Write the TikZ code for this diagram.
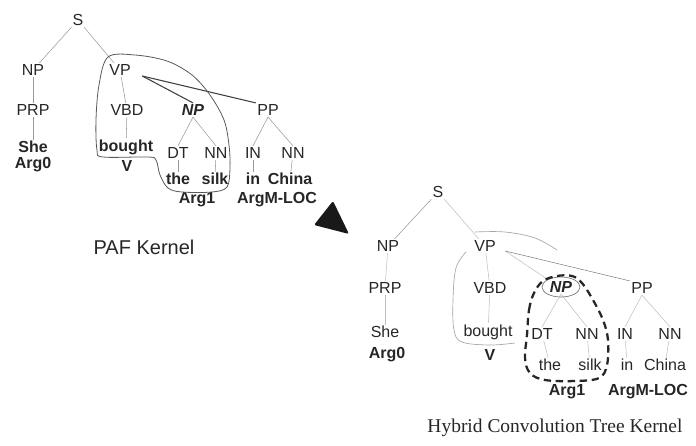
\documentclass[tikz,border=0pt]{standalone}
\usepackage{fontspec}
\setmainfont{Liberation Sans}
\newfontfamily\serfont{Liberation Serif}
\begin{document}
\begin{tikzpicture}[x=0.75pt,y=-0.75pt,
  lab/.style={font=\fontsize{12}{14}\selectfont, text=black!85, inner sep=1pt},
  blab/.style={font=\fontsize{12}{14}\selectfont\bfseries, text=black!85, inner sep=1pt},
  ilab/.style={font=\fontsize{12}{14}\selectfont\bfseries\itshape, text=black!85, inner sep=1pt},
  edge/.style={draw=black!40, line width=0.4pt},
  faint/.style={draw=black!25, line width=0.4pt},
  pedge/.style={draw=black!75, line width=0.8pt},
  outline/.style={draw=black!65, line width=0.6pt},
  routline/.style={draw=black!35, line width=0.5pt},
  dashline/.style={draw=black!85, line width=1.7pt, dash pattern=on 5.5pt off 3.5pt},
]
\useasboundingbox (0,0) rectangle (696,446);

% ---------------- left tree (PAF Kernel) ----------------
\node[lab] (lS) at (78,20) {S};
\node[lab] (lNP) at (33,70) {NP};
\node[lab] (lVP) at (120,70) {VP};
\node[lab] (lPRP) at (33,110) {PRP};
\node[lab] (lVBD) at (127,110) {VBD};
\node[ilab] (lNPb) at (193,110) {NP};
\node[lab] (lPP) at (268,110) {PP};
\node[blab] (lShe) at (33,147) {She};
\node[blab] (lbought) at (126,147) {bought};
\node[lab] (lDT) at (178,153) {DT};
\node[lab] (lNNa) at (216,153) {NN};
\node[lab] (lIN) at (253,153) {IN};
\node[lab] (lNNb) at (293,153) {NN};
\node[blab] (lArg0) at (33,165) {Arg0};
\node[blab] (lV) at (127,166) {V};
\node[blab] (lthe) at (178,179) {the};
\node[blab] (lsilk) at (215,179) {silk};
\node[blab] (lin) at (253,179) {in};
\node[blab] (lChina) at (290,179) {China};
\node[blab] (lArg1) at (197,200) {Arg1};
\node[blab] (lArgM) at (277,200) {ArgM-LOC};

\draw[edge] (lS) -- (lNP);
\draw[edge] (lS) -- (lVP);
\draw[edge] (lNP) -- (lPRP);
\draw[edge] (lPRP) -- (lShe);
\draw[edge] (lVP) -- (lVBD);
\draw[edge] (lVBD) -- (lbought);
\draw[pedge] ([shift={(10,6)}]lVP.east) -- (lNPb.north);
\draw[pedge] ([shift={(10,6)}]lVP.east) -- (lPP.north west);
\draw[edge] (lNPb.south) -- (lDT.north);
\draw[edge] (lNPb.south) -- (lNNa.north);
\draw[edge] (lPP.south) -- (lIN.north);
\draw[edge] (lPP.south) -- (lNNb.north);
\draw[edge] (lDT) -- (lthe);
\draw[edge] (lNNa) -- (lsilk);
\draw[edge] (lIN) -- (lin);
\draw[edge] (lNNb) -- (lChina);

\draw[outline] plot[smooth cycle, tension=0.55] coordinates {
  (108,57) (135,55) (167,61) (192,75) (210,95) (224,120) (229,145)
  (230,168) (227,187) (212,192) (182,192) (168,188) (160,175) (156,160)
  (148,157) (103,157) (97,150) (96,120) (99,85)};

% arrow triangle
\fill[black!90, rounded corners=1.5pt] (333,201) -- (314,225) -- (349,234) -- cycle;

\node[font=\fontsize{15}{18}\selectfont, text=black!85] (paf) at (144,247) {PAF Kernel};

% ---------------- right tree (Hybrid) ----------------
\node[lab] (rS) at (438,192) {S};
\node[lab] (rNP) at (388,246) {NP};
\node[lab] (rVP) at (485,246) {VP};
\node[lab] (rPRP) at (385,288) {PRP};
\node[lab] (rVBD) at (490,288) {VBD};
\node[ilab] (rNPb) at (561,287) {NP};
\node[lab] (rPP) at (642,288) {PP};
\node[lab] (rShe) at (385,332) {She};
\node[lab] (rbought) at (488,332) {bought};
\node[lab] (rDT) at (542,334) {DT};
\node[lab] (rNNa) at (587,334) {NN};
\node[lab] (rIN) at (625,334) {IN};
\node[lab] (rNNb) at (670,334) {NN};
\node[blab] (rArg0) at (387,355) {Arg0};
\node[blab] (rV) at (490,355) {V};
\node[lab] (rthe) at (550,365) {the};
\node[lab] (rsilk) at (590,365) {silk};
\node[lab] (rin) at (627,365) {in};
\node[lab] (rChina) at (665,365) {China};
\node[blab] (rArg1) at (567,392) {Arg1};
\node[blab] (rArgM) at (648,392) {ArgM-LOC};

\draw[edge] (rS) -- (rNP);
\draw[faint] (rS) -- (rVP);
\draw[faint] (rNP) -- (rPRP);
\draw[faint] (rPRP) -- (rShe);
\draw[faint] (rVP) -- (rVBD);
\draw[faint] (rVBD) -- (rbought);
\draw[faint] ([shift={(8,5)}]rVP.east) -- (rNPb.north west);
\draw[edge, draw=black!50] ([shift={(8,5)}]rVP.east) -- (rPP.north west);
\draw[faint] (rNPb.south) -- (rDT.north);
\draw[faint] (rNPb.south) -- (rNNa.north);
\draw[faint] (rPP.south) -- (rIN.north);
\draw[faint] (rPP.south) -- (rNNb.north);
\draw[faint] (rDT) -- (rthe);
\draw[faint] (rNNa) -- (rsilk);
\draw[faint] (rIN) -- (rin);
\draw[faint] (rNNb) -- (rChina);

% faint outline around VP / VBD / bought
\draw[routline] plot[smooth, tension=0.6] coordinates {(475,232) (505,232) (535,238) (557,250)};
\draw[routline] plot[smooth, tension=0.6] coordinates {(466,252) (456,268) (453,300) (454,330) (462,342) (490,345) (515,343)};

% small ellipse round NP
\draw[routline, draw=black!55] (rNPb.center) ellipse [x radius=19, y radius=10];

% dashed outline
\draw[dashline] plot[smooth cycle, tension=0.6] coordinates {
  (527,335) (529,310) (534,293) (543,281) (557,276) (572,276) (582,283)
  (593,300) (603,320) (608,340) (607,365) (599,378) (575,381) (545,380)
  (530,373) (525,358)};

\node[font=\serfont\fontsize{14.6}{17}\selectfont, text=black!85] (hyb) at (555,428) {Hybrid Convolution Tree Kernel};
\end{tikzpicture}
\end{document}
